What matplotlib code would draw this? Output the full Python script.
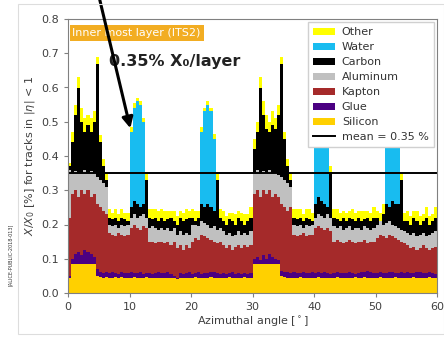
import matplotlib
matplotlib.use("Agg")
import matplotlib.pyplot as plt
import numpy as np
from matplotlib.patches import Rectangle

# bin edges in azimuth (0.5 deg bins)
EDGES = np.arange(0, 60.5, 0.5)

# cumulative tops of each material layer, one value per 0.5 deg bin
SILICON_TOP = [
    0.045, 0.085, 0.085, 0.085, 0.085, 0.085, 0.085, 0.085, 0.085, 0.050,
    0.046, 0.045, 0.046, 0.045, 0.045, 0.046, 0.045, 0.046, 0.045, 0.045,
    0.045, 0.046, 0.045, 0.044, 0.045, 0.046, 0.045, 0.045, 0.044, 0.045,
    0.045, 0.045, 0.044, 0.045, 0.045, 0.040, 0.045, 0.044, 0.045, 0.045,
    0.045, 0.046, 0.045, 0.045, 0.044, 0.045, 0.046, 0.045, 0.045, 0.044,
    0.045, 0.045, 0.046, 0.045, 0.044, 0.045, 0.045, 0.046, 0.045, 0.045,
    0.085, 0.085, 0.085, 0.085, 0.085, 0.085, 0.085, 0.085, 0.085, 0.050,
    0.046, 0.045, 0.045, 0.044, 0.045, 0.046, 0.045, 0.045, 0.044, 0.045,
    0.045, 0.046, 0.045, 0.045, 0.044, 0.045, 0.045, 0.046, 0.045, 0.045,
    0.045, 0.044, 0.045, 0.046, 0.045, 0.045, 0.048, 0.045, 0.044, 0.045,
    0.045, 0.046, 0.045, 0.045, 0.044, 0.045, 0.046, 0.045, 0.045, 0.044,
    0.045, 0.045, 0.046, 0.045, 0.044, 0.045, 0.045, 0.046, 0.045, 0.045,
]
GLUE_TOP = [
    0.050, 0.100, 0.115, 0.120, 0.110, 0.125, 0.120, 0.115, 0.105, 0.070,
    0.062, 0.058, 0.060, 0.057, 0.060, 0.058, 0.056, 0.060, 0.058, 0.057,
    0.060, 0.058, 0.057, 0.060, 0.055, 0.058, 0.057, 0.056, 0.058, 0.060,
    0.057, 0.058, 0.060, 0.055, 0.050, 0.045, 0.058, 0.055, 0.057, 0.060,
    0.056, 0.058, 0.060, 0.055, 0.057, 0.058, 0.060, 0.062, 0.058, 0.056,
    0.057, 0.055, 0.058, 0.060, 0.056, 0.058, 0.055, 0.057, 0.056, 0.058,
    0.100, 0.105, 0.095, 0.110, 0.100, 0.115, 0.105, 0.100, 0.095, 0.065,
    0.062, 0.060, 0.058, 0.060, 0.057, 0.059, 0.060, 0.058, 0.057, 0.060,
    0.058, 0.060, 0.057, 0.060, 0.058, 0.056, 0.058, 0.060, 0.057, 0.058,
    0.057, 0.060, 0.058, 0.056, 0.058, 0.060, 0.062, 0.065, 0.060, 0.058,
    0.058, 0.060, 0.057, 0.058, 0.060, 0.062, 0.058, 0.057, 0.060, 0.058,
    0.060, 0.058, 0.057, 0.060, 0.062, 0.058, 0.057, 0.060, 0.058, 0.055,
]
KAPTON_TOP = [
    0.22, 0.29, 0.30, 0.28, 0.30, 0.29, 0.30, 0.28, 0.29, 0.26,
    0.25, 0.24, 0.23, 0.175, 0.17, 0.165, 0.175, 0.17, 0.165, 0.17,
    0.19, 0.20, 0.19, 0.185, 0.195, 0.19, 0.15, 0.15, 0.145, 0.15,
    0.15, 0.145, 0.15, 0.14, 0.15, 0.13, 0.14, 0.125, 0.14, 0.13,
    0.15, 0.16, 0.155, 0.17, 0.165, 0.16, 0.155, 0.15, 0.145, 0.15,
    0.14, 0.13, 0.14, 0.125, 0.135, 0.14, 0.13, 0.14, 0.135, 0.14,
    0.29, 0.30, 0.28, 0.30, 0.29, 0.30, 0.28, 0.29, 0.28, 0.26,
    0.25, 0.24, 0.25, 0.17, 0.165, 0.17, 0.175, 0.165, 0.17, 0.17,
    0.19, 0.195, 0.19, 0.185, 0.19, 0.18, 0.15, 0.155, 0.15, 0.145,
    0.15, 0.155, 0.15, 0.145, 0.15, 0.15, 0.155, 0.145, 0.15, 0.15,
    0.16, 0.17, 0.165, 0.16, 0.17, 0.165, 0.16, 0.155, 0.15, 0.145,
    0.14, 0.13, 0.135, 0.125, 0.13, 0.14, 0.13, 0.125, 0.13, 0.135,
]
ALUMINUM_TOP = [
    0.36, 0.35, 0.355, 0.35, 0.35, 0.36, 0.35, 0.355, 0.35, 0.34,
    0.33, 0.32, 0.31, 0.20, 0.195, 0.20, 0.19, 0.20, 0.195, 0.20,
    0.22, 0.23, 0.22, 0.225, 0.23, 0.22, 0.19, 0.195, 0.19, 0.185,
    0.19, 0.185, 0.19, 0.18, 0.19, 0.17, 0.18, 0.17, 0.175, 0.17,
    0.20, 0.20, 0.195, 0.21, 0.205, 0.20, 0.19, 0.195, 0.185, 0.19,
    0.18, 0.17, 0.175, 0.165, 0.17, 0.18, 0.17, 0.175, 0.17, 0.18,
    0.35, 0.36, 0.35, 0.355, 0.35, 0.36, 0.35, 0.35, 0.345, 0.34,
    0.33, 0.32, 0.31, 0.20, 0.195, 0.20, 0.19, 0.20, 0.195, 0.20,
    0.22, 0.23, 0.225, 0.22, 0.23, 0.22, 0.195, 0.19, 0.195, 0.185,
    0.19, 0.195, 0.185, 0.19, 0.19, 0.185, 0.195, 0.19, 0.185, 0.19,
    0.20, 0.21, 0.20, 0.205, 0.21, 0.20, 0.195, 0.19, 0.185, 0.18,
    0.175, 0.17, 0.175, 0.165, 0.17, 0.175, 0.165, 0.17, 0.175, 0.18,
]
CARBON_TOP = [
    0.37, 0.44, 0.52, 0.60, 0.50, 0.47, 0.49, 0.47, 0.50, 0.67,
    0.44, 0.37, 0.33, 0.22, 0.215, 0.22, 0.21, 0.22, 0.215, 0.21,
    0.25, 0.27, 0.26, 0.25, 0.26, 0.33, 0.22, 0.215, 0.22, 0.21,
    0.22, 0.21, 0.215, 0.22, 0.21, 0.20, 0.22, 0.21, 0.215, 0.22,
    0.22, 0.21, 0.22, 0.26, 0.25, 0.26, 0.25, 0.24, 0.33, 0.22,
    0.21, 0.20, 0.215, 0.21, 0.20, 0.22, 0.21, 0.20, 0.21, 0.22,
    0.42, 0.47, 0.60, 0.52, 0.48, 0.47, 0.49, 0.48, 0.52, 0.67,
    0.45, 0.37, 0.33, 0.22, 0.215, 0.22, 0.21, 0.22, 0.215, 0.21,
    0.26, 0.28, 0.27, 0.26, 0.25, 0.35, 0.22, 0.215, 0.21, 0.22,
    0.21, 0.22, 0.215, 0.21, 0.22, 0.21, 0.215, 0.22, 0.21, 0.22,
    0.22, 0.21, 0.23, 0.26, 0.25, 0.27, 0.26, 0.26, 0.33, 0.21,
    0.21, 0.20, 0.22, 0.21, 0.20, 0.21, 0.22, 0.20, 0.21, 0.22,
]
# water and "other" given as thickness on top of carbon
WATER = [
    0, 0, 0, 0, 0, 0, 0, 0, 0, 0,
    0, 0, 0, 0, 0, 0, 0, 0, 0, 0,
    0.22, 0.27, 0.30, 0.30, 0.24, 0, 0, 0, 0, 0,
    0, 0, 0, 0, 0, 0, 0, 0, 0, 0,
    0, 0, 0, 0.21, 0.28, 0.29, 0.28, 0.21, 0, 0,
    0, 0, 0, 0, 0, 0, 0, 0, 0, 0,
    0, 0, 0, 0, 0, 0, 0, 0, 0, 0,
    0, 0, 0, 0, 0, 0, 0, 0, 0, 0,
    0.19, 0.25, 0.29, 0.29, 0.25, 0, 0, 0, 0, 0,
    0, 0, 0, 0, 0, 0, 0, 0, 0, 0,
    0, 0, 0, 0.20, 0.28, 0.29, 0.28, 0.21, 0, 0,
    0, 0, 0, 0, 0, 0, 0, 0, 0, 0,
]
OTHER = [
    0.01, 0.03, 0.03, 0.03, 0.04, 0.04, 0.03, 0.04, 0.03, 0.02,
    0.02, 0.02, 0.02, 0.025, 0.02, 0.025, 0.02, 0.025, 0.02, 0.025,
    0.015, 0.015, 0.01, 0.01, 0.01, 0.02, 0.025, 0.03, 0.025, 0.03,
    0.025, 0.03, 0.025, 0.02, 0.03, 0.025, 0.02, 0.025, 0.03, 0.02,
    0.025, 0.03, 0.02, 0.015, 0.01, 0.01, 0.01, 0.015, 0.02, 0.025,
    0.03, 0.025, 0.02, 0.025, 0.03, 0.02, 0.025, 0.03, 0.02, 0.03,
    0.03, 0.03, 0.03, 0.04, 0.04, 0.03, 0.04, 0.03, 0.03, 0.02,
    0.02, 0.02, 0.02, 0.025, 0.03, 0.025, 0.02, 0.025, 0.03, 0.025,
    0.015, 0.01, 0.01, 0.01, 0.015, 0.02, 0.025, 0.03, 0.025, 0.02,
    0.025, 0.02, 0.03, 0.025, 0.02, 0.03, 0.025, 0.02, 0.025, 0.03,
    0.02, 0.025, 0.03, 0.015, 0.01, 0.01, 0.01, 0.015, 0.02, 0.025,
    0.03, 0.025, 0.02, 0.03, 0.025, 0.02, 0.03, 0.025, 0.02, 0.03,
]
MEAN = 0.35

LABELS = ["Silicon", "Glue", "Kapton", "Aluminum", "Carbon", "Water", "Other"]
COLORS = ["#ffd000", "#4b0082", "#a52a2a", "#c0c0c0", "#000000", "#18bcf0", "#ffff00"]


def stepify(v):
    v = np.asarray(v, dtype=float)
    return np.append(v, v[-1])


water_top = np.asarray(CARBON_TOP) + np.asarray(WATER)
other_top = water_top + np.asarray(OTHER)
tops = [stepify(SILICON_TOP), stepify(GLUE_TOP), stepify(KAPTON_TOP),
        stepify(ALUMINUM_TOP), stepify(CARBON_TOP), stepify(water_top), stepify(other_top)]

fig = plt.figure(figsize=(4.44, 3.37), dpi=100)
ax = fig.add_axes([68 / 444, 1 - 293 / 337, 369 / 444, 274 / 337])

handles = {}
bottom = np.zeros(len(EDGES))
for top, lab, col in zip(tops, LABELS, COLORS):
    h = ax.fill_between(EDGES, bottom, np.maximum(top, bottom), step="post",
                        color=col, lw=0, label=lab)
    handles[lab] = h
    bottom = np.maximum(top, bottom)

mline, = ax.plot([0, 60], [MEAN, MEAN], color="black", lw=1.4, label="mean = 0.35 %")

ax.set_xlim(0, 60)
ax.set_ylim(0, 0.8)
ax.set_xticks(range(0, 61, 10))
ax.set_yticks(np.arange(0, 0.81, 0.1))
ax.set_yticklabels([f"{v:.1f}" for v in np.arange(0, 0.81, 0.1)])
for s in ax.spines.values():
    s.set_color("#808080")
ax.tick_params(labelsize=8, colors="#404040", length=3, color="#808080")
ax.set_xlabel("Azimuthal angle [$^\\circ$]", fontsize=8, color="#404040", labelpad=2)
ax.set_ylabel("$X/X_0$ [%] for tracks in $|\\eta|$ < 1", fontsize=8, color="#404040", labelpad=3)

order = ["Other", "Water", "Carbon", "Aluminum", "Kapton", "Glue", "Silicon"]
leg = ax.legend([handles[k] for k in order] + [mline], order + ["mean = 0.35 %"],
                loc="upper right", fontsize=8, labelspacing=0.45, borderpad=0.45,
                handletextpad=0.6, fancybox=False, framealpha=1, edgecolor="#d0d0d0",
                borderaxespad=0.3)
for t in leg.get_texts():
    t.set_color("#333333")

ax.text(0.012, 0.968, "Inner most layer (ITS2)", transform=ax.transAxes, fontsize=8,
        color="white", va="top", ha="left",
        bbox=dict(facecolor="#f2ad22", edgecolor="none", pad=2))
ax.text(0.29, 0.845, "0.35% X\u2080/layer", transform=ax.transAxes, fontsize=11.5,
        fontweight="bold", color="#222222", ha="center", va="center")

# faint frame around the figure and the document tag
fig.patches.append(Rectangle((18 / 444, 1 - 334 / 337), 426 / 444, 330 / 337,
                             transform=fig.transFigure, fill=False,
                             edgecolor="#dddddd", lw=0.8))
fig.text(10 / 444, 1 - 255 / 337, "[ALICE-PUBLIC-2018-013]", rotation=90,
         fontsize=3.5, color="#333333", ha="center", va="center")
# arrow pointing at the first water peak
ax.annotate("", xy=(131 / 444, 1 - 131 / 337), xycoords="figure fraction",
            xytext=(99 / 444, 1.01), textcoords="figure fraction",
            arrowprops=dict(arrowstyle="-|>", lw=2.2, color="black", mutation_scale=16),
            annotation_clip=False)

fig.savefig("out.png", dpi=100)
